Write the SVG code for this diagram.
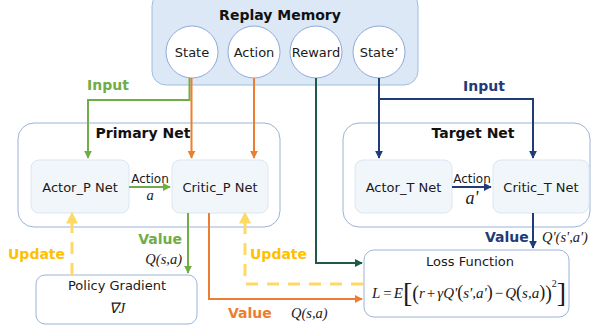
<svg xmlns="http://www.w3.org/2000/svg" width="593" height="331" viewBox="0 0 593 331">
<defs>
<style>
.t{font-family:"DejaVu Sans","Verdana",sans-serif;font-size:13px;fill:#1a1a1a;text-anchor:middle}
.b{font-family:"DejaVu Sans","Verdana",sans-serif;font-weight:bold;font-size:14px}
.m{font-family:"Liberation Serif","Times New Roman",serif;font-style:italic;font-size:14.5px;fill:#1a1a1a}
.f{font-family:"Liberation Serif","Times New Roman",serif;font-style:italic;font-size:15px;fill:#1a1a1a}
.up{font-style:normal}
.outer{fill:#fff;stroke:#9bb4d8;stroke-width:1}
.inner{fill:#f1f6fb;stroke:#dbe6f2;stroke-width:1}
.circ{fill:#fff;stroke:#8faadc;stroke-width:1}
.ln{fill:none;stroke-width:2}
.g{stroke:#70ad47}.o{stroke:#ed7d31}.n{stroke:#1f3b78}.dg{stroke:#1e5a4a}
.y{stroke:#ffd966;stroke-width:3;stroke-dasharray:12 9;fill:none}
</style>
<marker id="ag" viewBox="0 0 10 10" refX="9" refY="5" markerWidth="4" markerHeight="4" orient="auto"><path d="M0,0L10,5L0,10z" fill="#70ad47"/></marker>
<marker id="ao" viewBox="0 0 10 10" refX="9" refY="5" markerWidth="4" markerHeight="4" orient="auto"><path d="M0,0L10,5L0,10z" fill="#ed7d31"/></marker>
<marker id="an" viewBox="0 0 10 10" refX="9" refY="5" markerWidth="4" markerHeight="4" orient="auto"><path d="M0,0L10,5L0,10z" fill="#1f3b78"/></marker>
<marker id="adg" viewBox="0 0 10 10" refX="9" refY="5" markerWidth="4" markerHeight="4" orient="auto"><path d="M0,0L10,5L0,10z" fill="#1e5a4a"/></marker>
<marker id="ay" viewBox="0 0 10 10" refX="8" refY="5" markerWidth="4" markerHeight="4" orient="auto"><path d="M0,0L10,5L0,10z" fill="#ffd966"/></marker>
</defs>
<rect width="593" height="331" fill="#fff"/>

<g id="replay-memory">
<rect x="152" y="-8" width="266" height="93" rx="14" fill="#dce8f5" stroke="#9fbde0"/>
<text class="b" x="280" y="20" text-anchor="middle" fill="#111">Replay Memory</text>
</g>
<g id="state"><circle class="circ" cx="192" cy="52" r="26"/><text class="t" x="192" y="57">State</text></g>
<g id="action"><circle class="circ" cx="254" cy="52" r="26"/><text class="t" x="254" y="57">Action</text></g>
<g id="reward"><circle class="circ" cx="316" cy="52" r="26"/><text class="t" x="316" y="57">Reward</text></g>
<g id="state-prime"><circle class="circ" cx="379" cy="52" r="26"/><text class="t" x="379" y="57">State’</text></g>

<g id="primary-net">
<rect class="outer" x="18" y="123" width="262" height="104" rx="16"/>
<text class="b" x="143" y="138" text-anchor="middle" fill="#111">Primary Net</text>
</g>
<g id="actor-p"><rect class="inner" x="31" y="160" width="98" height="53" rx="8"/><text class="t" x="80" y="192">Actor_P Net</text></g>
<g id="critic-p"><rect class="inner" x="172" y="160" width="96" height="53" rx="8"/><text class="t" x="220" y="192">Critic_P Net</text></g>

<g id="target-net">
<rect class="outer" x="343" y="123" width="247" height="104" rx="16"/>
<text class="b" x="473" y="138" text-anchor="middle" fill="#111">Target Net</text>
</g>
<g id="actor-t"><rect class="inner" x="355" y="160" width="97" height="53" rx="8"/><text class="t" x="403.5" y="192">Actor_T Net</text></g>
<g id="critic-t"><rect class="inner" x="493" y="160" width="96" height="53" rx="8"/><text class="t" x="541" y="192">Critic_T Net</text></g>

<g id="policy-gradient">
<rect class="outer" x="36" y="275" width="161" height="49" rx="9"/>
<text class="t" x="117" y="290">Policy Gradient</text>
<text class="m" x="117" y="313" text-anchor="middle">∇J</text>
</g>

<g id="loss-function">
<rect class="outer" x="364" y="250" width="205" height="67" rx="10"/>
<text class="t" x="470" y="266">Loss Function</text>
<text class="f" x="372" y="298"><tspan>L</tspan><tspan class="up" dx="3">=</tspan><tspan dx="2">E</tspan><tspan class="up" y="302" style="font-size:28px">[</tspan><tspan class="up" y="300" style="font-size:20px">(</tspan><tspan y="298">r</tspan><tspan class="up" dx="2">+</tspan><tspan dx="2">γQ'</tspan><tspan class="up" style="font-size:18px">(</tspan><tspan>s',a'</tspan><tspan class="up" style="font-size:18px">)</tspan><tspan class="up" dx="2">−</tspan><tspan dx="2">Q</tspan><tspan class="up" style="font-size:18px">(</tspan><tspan>s,a</tspan><tspan class="up" style="font-size:18px">)</tspan><tspan class="up" y="300" style="font-size:20px">)</tspan><tspan class="up" y="287" style="font-size:10px">2</tspan><tspan class="up" y="302" style="font-size:28px">]</tspan></text>
</g>

<g id="connectors">
<path class="ln g" d="M189.5,78V100H88V158" marker-end="url(#ag)"/>
<path class="ln o" d="M191.5,78V158" marker-end="url(#ao)"/>
<path class="ln o" d="M254,78V158" marker-end="url(#ao)"/>
<path class="ln n" d="M379,78V158" marker-end="url(#an)"/>
<path class="ln n" d="M379,99H533V158" marker-end="url(#an)"/>
<path class="ln dg" d="M316,78V263H362" marker-end="url(#adg)"/>
<path class="ln g" d="M129,187H170" marker-end="url(#ag)"/>
<path class="ln n" d="M452,187H491" marker-end="url(#an)"/>
<path class="ln n" d="M533,213V248" marker-end="url(#an)"/>
<path class="ln g" d="M188,213V273" marker-end="url(#ag)"/>
<path class="ln o" d="M209,213V299H362" marker-end="url(#ao)"/>
<path class="y" d="M72,275V214" marker-end="url(#ay)"/>
<path class="y" d="M363,284H245V214" marker-end="url(#ay)"/>
</g>

<g id="labels">
<text class="b" x="108" y="90" text-anchor="middle" fill="#70ad47">Input</text>
<text class="b" x="484" y="91" text-anchor="middle" fill="#1f3b78">Input</text>
<text class="t" x="150" y="183" style="font-size:12px">Action</text>
<text class="m" x="150" y="200" text-anchor="middle">a</text>
<text class="t" x="472" y="183" style="font-size:12px">Action</text>
<text class="m" x="472" y="204" text-anchor="middle" style="font-size:18px">a'</text>
<text class="b" x="182" y="244" text-anchor="end" fill="#70ad47">Value</text>
<text class="m" x="182" y="264" text-anchor="end">Q(s,a)</text>
<text class="b" x="8" y="259" fill="#ffc000">Update</text>
<text class="b" x="250" y="259" fill="#ffc000">Update</text>
<text class="b" x="228" y="318" fill="#ed7d31">Value</text>
<text class="m" x="291" y="318">Q(s,a)</text>
<text class="b" x="485" y="242" fill="#1f3b78">Value</text>
<text class="m" x="542" y="242">Q'(s',a')</text>
</g>
</svg>
